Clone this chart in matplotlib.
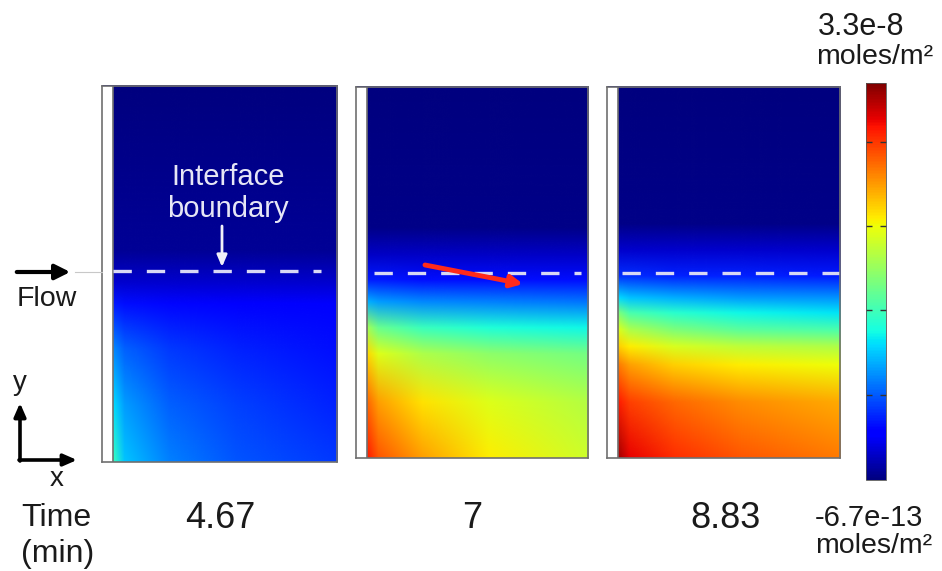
import numpy as np
import matplotlib
matplotlib.use('Agg')
import matplotlib.pyplot as plt
from matplotlib.cm import ScalarMappable
from matplotlib.colors import Normalize
from matplotlib.image import NonUniformImage

plt.rcParams['font.family'] = ['Liberation Sans', 'DejaVu Sans']

# ---- data (normalised concentration, 0 = -6.7e-13, 1 = 3.3e-8 moles/m2) ----
field_x = [0.0, 0.05, 0.25, 0.55, 1.0]   # across the channel

p1_y = [0.0, 0.15, 0.30, 0.42, 0.48, 0.56, 1.0]
p1_c = [[0.42, 0.32, 0.25, 0.21, 0.18],
        [0.34, 0.28, 0.22, 0.19, 0.16],
        [0.26, 0.22, 0.18, 0.16, 0.14],
        [0.15, 0.14, 0.13, 0.12, 0.11],
        [0.07, 0.07, 0.07, 0.07, 0.07],
        [0.02, 0.02, 0.02, 0.02, 0.02],
        [0.00, 0.00, 0.00, 0.00, 0.00]]

p2_y = [0.0, 0.15, 0.28, 0.35, 0.42, 0.48, 0.55, 0.62, 1.0]
p2_c = [[0.88, 0.82, 0.74, 0.66, 0.60],
        [0.80, 0.74, 0.67, 0.62, 0.57],
        [0.68, 0.62, 0.56, 0.52, 0.49],
        [0.55, 0.48, 0.42, 0.39, 0.37],
        [0.30, 0.28, 0.26, 0.25, 0.24],
        [0.15, 0.15, 0.14, 0.14, 0.14],
        [0.06, 0.06, 0.06, 0.06, 0.06],
        [0.01, 0.01, 0.01, 0.01, 0.01],
        [0.00, 0.00, 0.00, 0.00, 0.00]]

p3_y = [0.0, 0.15, 0.25, 0.30, 0.345, 0.39, 0.43, 0.49, 0.56, 0.63, 1.0]
p3_c = [[0.97, 0.91, 0.86, 0.82, 0.78],
        [0.88, 0.84, 0.80, 0.76, 0.73],
        [0.78, 0.74, 0.69, 0.66, 0.64],
        [0.69, 0.66, 0.61, 0.58, 0.56],
        [0.62, 0.56, 0.50, 0.46, 0.44],
        [0.50, 0.44, 0.40, 0.37, 0.35],
        [0.34, 0.32, 0.30, 0.28, 0.27],
        [0.17, 0.17, 0.16, 0.16, 0.15],
        [0.07, 0.07, 0.07, 0.07, 0.07],
        [0.01, 0.01, 0.01, 0.01, 0.01],
        [0.00, 0.00, 0.00, 0.00, 0.00]]

times = ['4.67', '7', '8.83']
interface_y = [0.507, 0.50, 0.50]
cbar_top = '3.3e-8'
cbar_bottom = '-6.7e-13'
unit = 'moles/m\u00b2'
cbar_ticks = [0.214, 0.428, 0.640, 0.851]

W, H = 942, 571
fig = plt.figure(figsize=(W / 100, H / 100), dpi=100)


def px_axes(x0, y0, x1, y1):
    return fig.add_axes([x0 / W, 1 - y1 / H, (x1 - x0) / W, (y1 - y0) / H])


boxes = [(102, 86, 337, 462), (356, 87, 588, 458), (607, 87, 840, 458)]
dash_span = [(0.0, 0.93), (0.03, 0.97), (0.02, 1.0)]
fields = [(p1_y, p1_c), (p2_y, p2_c), (p3_y, p3_c)]
norm = Normalize(0, 1)

for box, (fy, fc), yi, span in zip(boxes, fields, interface_y, dash_span):
    ax = px_axes(*box)
    strip = 11 / (box[2] - box[0] - 11)
    im = NonUniformImage(ax, interpolation='bilinear', extent=(0, 1, 0, 1),
                         cmap='jet', norm=norm)
    im.set_data(np.array(field_x), np.array(fy), np.array(fc))
    ax.add_image(im)
    ax.set_xlim(-strip, 1)
    ax.set_ylim(0, 1)
    # white wall strip on the left of each channel
    ax.axvspan(-strip, 0, color='white', zorder=3, lw=0)
    ax.axvline(0, color='#707070', lw=1.2, zorder=4)
    ax.plot(span, [yi, yi], color='#d8d8f4', lw=2.4, dashes=(5.5, 4.5), zorder=4)
    ax.set_xticks([])
    ax.set_yticks([])
    for s in ax.spines.values():
        s.set_color('#707070')
        s.set_linewidth(1.2)
        s.set_zorder(5)

# colour bar
cax = px_axes(866, 83, 886, 480)
cb = fig.colorbar(ScalarMappable(norm=norm, cmap='jet'), cax=cax)
cb.outline.set_edgecolor('#555555')
cb.outline.set_linewidth(0.6)
cb.set_ticks(cbar_ticks)
cax.tick_params(axis='y', left=True, right=True, direction='in', length=4,
                width=1, color='#333333', labelleft=False, labelright=False)

# overlay for annotations in pixel coordinates
ov = fig.add_axes([0, 0, 1, 1], facecolor='none')
ov.set_xlim(0, W)
ov.set_ylim(H, 0)
ov.axis('off')

txt = '#1a1a1a'
ov.text(818, 35, cbar_top, fontsize=22, color=txt, ha='left', va='baseline')
ov.text(816, 64, unit, fontsize=20.5, color=txt, ha='left', va='baseline')
ov.text(815, 526, cbar_bottom, fontsize=21, color=txt, ha='left', va='baseline')
ov.text(815, 553, unit, fontsize=20.5, color=txt, ha='left', va='baseline')

ov.text(21, 526, 'Time', fontsize=23, color=txt, ha='left', va='baseline')
ov.text(21, 562, '(min)', fontsize=23, color=txt, ha='left', va='baseline')
for t, xc in zip(times, [220, 472, 725]):
    ov.text(xc, 528, t, fontsize=26, color=txt, ha='center', va='baseline')

# flow arrow
ov.plot([75, 102], [272, 272], color='#c8c8c8', lw=0.8)
ov.annotate('', xy=(73, 272), xytext=(14, 272),
            arrowprops=dict(arrowstyle='-|>,head_length=0.9,head_width=0.45',
                            color='black', lw=3))
ov.text(47, 299, 'Flow', fontsize=20.5, color=txt, ha='center', va='center')

# xy axes
ov.annotate('', xy=(20, 403), xytext=(20, 461),
            arrowprops=dict(arrowstyle='-|>,head_length=0.8,head_width=0.35',
                            color='black', lw=2.6, shrinkA=0, shrinkB=0))
ov.annotate('', xy=(77, 460), xytext=(19, 460),
            arrowprops=dict(arrowstyle='-|>,head_length=0.8,head_width=0.35',
                            color='black', lw=2.6, shrinkA=0, shrinkB=0))
ov.text(20, 383, 'y', fontsize=20, color=txt, ha='center', va='center')
ov.text(57, 479, 'x', fontsize=20, color=txt, ha='center', va='center')

# interface boundary label
ov.text(228, 177, 'Interface', fontsize=21, color='#e6e6f5', ha='center', va='center')
ov.text(228, 209, 'boundary', fontsize=21, color='#e6e6f5', ha='center', va='center')
ov.annotate('', xy=(222, 267), xytext=(222, 226),
            arrowprops=dict(arrowstyle='-|>,head_length=0.7,head_width=0.3',
                            color='#f0f0f8', lw=2, shrinkA=0, shrinkB=0))

# red flow-direction arrow in second panel
ov.annotate('', xy=(523, 284), xytext=(425, 265),
            arrowprops=dict(arrowstyle='-|>,head_length=0.7,head_width=0.35',
                            color='#ff2a1a', lw=3.5, shrinkA=0, shrinkB=0))

fig.savefig('out.png', dpi=100)
